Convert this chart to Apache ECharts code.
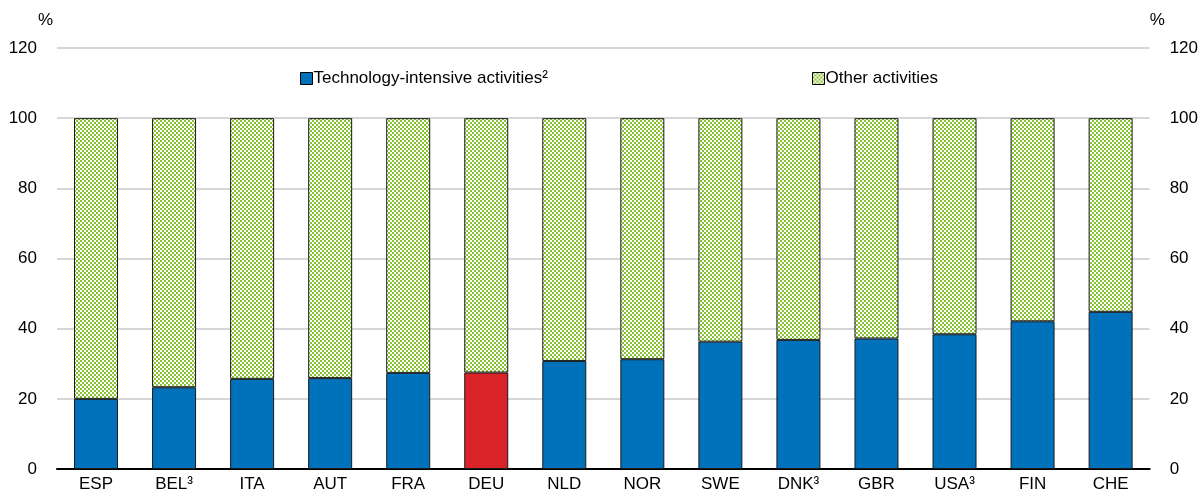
<!DOCTYPE html>
<html>
<head>
<meta charset="utf-8">
<script src="https://cdn.jsdelivr.net/npm/echarts@6/dist/echarts.min.js"></script>
<style>
html,body{margin:0;padding:0;background:#fff;}
#chart{width:1201px;height:496px;}
</style>
</head>
<body>
<div id="chart"></div>
<script>
var categories = ['ESP','BEL³','ITA','AUT','FRA','DEU','NLD','NOR','SWE','DNK³','GBR','USA³','FIN','CHE'];
var techValues = [20.0, 23.3, 25.7, 25.9, 27.4, 27.5, 30.8, 31.3, 36.3, 36.8, 37.2, 38.4, 42.1, 44.8];
var otherValues = [80.0, 76.7, 74.3, 74.1, 72.6, 72.5, 69.2, 68.7, 63.7, 63.2, 62.8, 61.6, 57.9, 55.2];
var highlightCategory = 'DEU';
var seriesNames = ['Technology-intensive activities²', 'Other activities'];

var FONT = "'Liberation Sans Narrow','Arial Narrow','Liberation Sans',Arial,sans-serif";
var FS = 17;
var BLUE = '#0072bc', RED = '#da2229', GREEN = '#86c232';

// checker pattern for "Other activities"
var pc = document.createElement('canvas');
pc.width = 4; pc.height = 4;
var pctx = pc.getContext('2d');
pctx.fillStyle = '#ffffff'; pctx.fillRect(0,0,4,4);
pctx.fillStyle = GREEN;
pctx.fillRect(0,0,2,2); pctx.fillRect(2,2,2,2);
var pattern = {image: pc, repeat: 'repeat'};

var techData = techValues.map(function(v,i){
  return categories[i] === highlightCategory ? {value: v, itemStyle:{color: RED}} : v;
});

var legendCommon = {
  top: 65, itemWidth: 12, itemHeight: 12, itemGap: 0, icon: 'rect',
  textStyle: {fontFamily: FONT, fontSize: FS, color: '#000', padding:[0,0,0,-4]},
  itemStyle: {borderColor:'#000', borderWidth:1}
};

var chart = echarts.init(document.getElementById('chart'), null, {renderer:'canvas'});
chart.setOption({
  animation: false,
  textStyle: {fontFamily: FONT},
  grid: {left: 57, right: 49, top: 48, bottom: 27, containLabel: false},
  legend: [
    Object.assign({data: [seriesNames[0]], left: 295}, legendCommon),
    Object.assign({data: [seriesNames[1]], left: 807}, legendCommon)
  ],
  xAxis: {
    type: 'category', data: categories,
    axisLine: {lineStyle: {color:'#000', width: 2}},
    axisTick: {show:false},
    axisLabel: {fontFamily: FONT, fontSize: FS, color:'#000', margin: 7}
  },
  yAxis: [{
    type: 'value', min: 0, max: 120, interval: 20,
    name: '%', nameLocation: 'end', nameGap: 19,
    nameTextStyle: {fontFamily: FONT, fontSize: FS, color:'#000', align:'right', padding:[0,4,0,0]},
    axisLine: {show:false}, axisTick: {show:false},
    axisLabel: {fontFamily: FONT, fontSize: FS, color:'#000', margin: 20},
    splitLine: {lineStyle: {color:'#c8c8c8', width: 1.5}}
  },{
    type: 'value', min: 0, max: 120, interval: 20, position: 'right',
    name: '%', nameLocation: 'end', nameGap: 19,
    nameTextStyle: {fontFamily: FONT, fontSize: FS, color:'#000', align:'left', padding:[0,0,0,0]},
    axisLine: {show:false}, axisTick: {show:false},
    axisLabel: {fontFamily: FONT, fontSize: FS, color:'#000', margin: 20, align:'left'},
    splitLine: {show:false}
  }],
  series: [{
    name: seriesNames[0], type: 'bar', stack: 'total', data: techData,
    barWidth: 44,
    itemStyle: {color: BLUE, borderColor: '#1a1a1a', borderWidth: 1}
  },{
    name: seriesNames[1], type: 'bar', stack: 'total', data: otherValues,
    barWidth: 44,
    itemStyle: {color: pattern, borderColor: '#1a1a1a', borderWidth: 1}
  }]
});
</script>
</body>
</html>
